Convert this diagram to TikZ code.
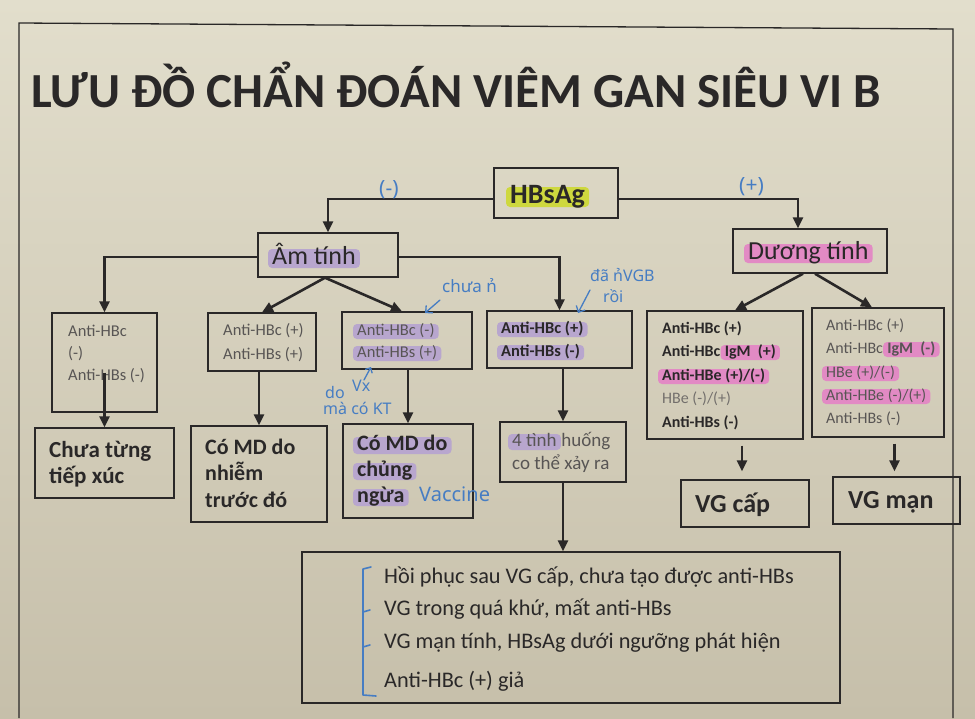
\documentclass[tikz,border=0pt]{standalone}
\usepackage{fontspec}
\setmainfont{Carlito}
\newfontfamily\handfont{Noto Sans}
\usetikzlibrary{arrows.meta,calc}
\definecolor{paperA}{RGB}{226,222,204}
\definecolor{paperB}{RGB}{198,191,170}
\definecolor{ink}{RGB}{42,40,40}
\definecolor{soft}{RGB}{88,85,84}
\definecolor{lite}{RGB}{115,111,108}
\definecolor{hlY}{RGB}{206,216,62}
\definecolor{hlP}{RGB}{184,166,206}
\definecolor{hlK}{RGB}{226,138,196}
\definecolor{pen}{RGB}{70,125,195}
\pgfdeclarelayer{paper}
\pgfdeclarelayer{marks}
\pgfsetlayers{paper,marks,main}
\newcommand\fs[1]{\fontsize{#1}{#1}\selectfont}
\newcommand\hlmark[3]{\fill[#1, rounded corners=4pt] ([xshift=-4pt,yshift=-4pt]#2.base west) rectangle ([xshift=4pt,yshift=#3]#2.base east);}
\begin{document}
\begin{tikzpicture}[x=1pt,y=-1pt,
  box/.style={draw=ink, line width=1.4pt, inner sep=0pt},
  conn/.style={draw=ink, line width=2.6pt, -{Triangle[length=11pt,width=10pt]}},
  tx/.style={anchor=base west, inner sep=0pt, text=#1},
  tx/.default=ink,
  penline/.style={draw=pen, line width=1.3pt, line cap=round, line join=round},
  hand/.style={text=pen, inner sep=0pt, anchor=base west, font=\handfont\fs{#1}}]
\begin{pgfonlayer}{paper}
\shade[top color=paperA, bottom color=paperB] (0,0) rectangle (975,718);
\end{pgfonlayer}
\useasboundingbox (0,0) rectangle (975,718);
% page frame
\draw[ink, line width=1.3pt] (19,718) -- (19,23) -- (953,29) -- (953,718);
% title
\node[tx, font=\bfseries\fs{49}] (title) at (31,107) {LƯU ĐỒ CHẨN ĐOÁN VIÊM GAN SIÊU VI B};
% boxes
\node[box, minimum width=124, minimum height=50] (hbs) at (556,193) {};
\node[box, minimum width=140, minimum height=44] (amt) at (328,255) {};
\node[box, minimum width=154, minimum height=44] (duong) at (810,251) {};
\node[box, minimum width=105, minimum height=99] (b1) at (104.5,362.5) {};
\node[box, minimum width=108, minimum height=58] (b2) at (262,342) {};
\node[box, minimum width=130, minimum height=57] (b3) at (407,340.5) {};
\node[box, minimum width=145, minimum height=57] (b4) at (559.5,339.5) {};
\node[box, minimum width=156, minimum height=128] (b9) at (725,375) {};
\node[box, minimum width=132, minimum height=129] (b10) at (878,372.5) {};
\node[box, minimum width=139, minimum height=70] (b5) at (104.5,463) {};
\node[box, minimum width=136, minimum height=96] (b6) at (259,474) {};
\node[box, minimum width=130, minimum height=94] (b7) at (408,471) {};
\node[box, minimum width=126, minimum height=60] (b8) at (563,452) {};
\node[box, minimum width=128, minimum height=47] (b11) at (745,503.5) {};
\node[box, minimum width=127, minimum height=47] (b12) at (896.5,500.5) {};
\node[box, minimum width=538, minimum height=151] (big) at (571,627.5) {};
% texts
\node[tx, font=\bfseries\fs{28}] (thbs) at (510,203) {HBsAg};
\node[tx, font=\fs{26}] (tamt) at (272,264) {Âm tính};
\node[tx, font=\fs{26}] (tduong) at (748,259) {Dương tính};
\begin{scope}[every node/.append style={font=\fs{16.5}}]
\node[tx=soft] (t1a) at (68,336) {Anti-HBc};
\node[tx=soft] (t1b) at (68,358) {(-)};
\node[tx=soft] (t1c) at (68,380) {Anti-HBs (-)};
\node[tx=soft] (t2a) at (223,335) {Anti-HBc (+)};
\node[tx=soft] (t2b) at (223,359) {Anti-HBs (+)};
\node[tx=soft] (t3a) at (357,335) {Anti-HBc (-)};
\node[tx=soft] (t3b) at (357,357) {Anti-HBs (+)};
\node[tx, font=\bfseries\fs{16.5}] (t4a) at (501,333) {Anti-HBc (+)};
\node[tx, font=\bfseries\fs{16.5}] (t4b) at (501,356) {Anti-HBs (-)};
\end{scope}
\begin{scope}[every node/.append style={font=\bfseries\fs{16}}]
\node[tx] (t9a) at (662,333) {Anti-HBc (+)};
\node[tx] (t9b) at (662,356) {Anti-HBc};
\node[tx] (t9c) at ([xshift=4pt]t9b.base east) {IgM\ \ (+)};
\node[tx] (t9d) at (662,380) {Anti-HBe (+)/(-)};
\node[tx=lite, font=\fs{16}] (t9e) at (662,403) {HBe (-)/(+)};
\node[tx] (t9f) at (662,427) {Anti-HBs (-)};
\end{scope}
\begin{scope}[every node/.append style={font=\fs{16}}]
\node[tx=soft] (t10a) at (826,330) {Anti-HBc (+)};
\node[tx=soft] (t10b) at (826,353) {Anti-HBc};
\node[tx=soft, font=\bfseries\fs{16}] (t10c) at ([xshift=4pt]t10b.base east) {IgM\ \ (-)};
\node[tx=soft] (t10d) at (826,377) {HBe (+)/(-)};
\node[tx=soft] (t10e) at (826,400) {Anti-HBe (-)/(+)};
\node[tx=soft] (t10f) at (826,423) {Anti-HBs (-)};
\end{scope}
\begin{scope}[every node/.append style={font=\bfseries\fs{22}}]
\node[tx, font=\bfseries\fs{23}] (t5a) at (49,457) {Chưa từng};
\node[tx, font=\bfseries\fs{23}] (t5b) at (49,483) {tiếp xúc};
\node[tx] (t6a) at (205,454) {Có MD do};
\node[tx] (t6b) at (205,480) {nhiễm};
\node[tx] (t6c) at (205,507) {trước đó};
\node[tx] (t7a) at (357,450) {Có MD do};
\node[tx] (t7b) at (357,476) {chủng};
\node[tx] (t7c) at (357,502) {ngừa};
\end{scope}
\node[tx=soft, font=\fs{19}] (t8a) at (512,446) {4 tình};
\node[tx=soft, font=\fs{19}] (t8b) at ([xshift=4.3pt]t8a.base east) {huống};
\node[tx=soft, font=\fs{19}] (t8c) at (512,469) {co thể xảy ra};
\node[tx, font=\bfseries\fs{26}] (t11) at (695,512) {VG cấp};
\node[tx, font=\bfseries\fs{26}] (t12) at (848,508) {VG mạn};
\begin{scope}[every node/.append style={font=\fs{22.3}}]
\node[tx] (L1) at (384,583) {Hồi phục sau VG cấp, chưa tạo được anti-HBs};
\node[tx] (L2) at (384,615) {VG trong quá khứ, mất anti-HBs};
\node[tx] (L3) at (384,648) {VG mạn tính, HBsAg dưới ngưỡng phát hiện};
\node[tx] (L4) at (384,687) {Anti-HBc (+) giả};
\end{scope}
% highlights
\begin{pgfonlayer}{marks}
\hlmark{hlY}{thbs}{16pt}
\hlmark{hlP}{tamt}{15pt}
\hlmark{hlK}{tduong}{15pt}
\hlmark{hlP}{t3a}{11pt}
\hlmark{hlP}{t3b}{11pt}
\hlmark{hlP}{t4a}{11pt}
\hlmark{hlP}{t4b}{11pt}
\hlmark{hlP}{t7a}{13pt}
\hlmark{hlP}{t7b}{13pt}
\hlmark{hlP}{t7c}{13pt}
\hlmark{hlP}{t8a}{12pt}
\hlmark{hlK}{t9c}{11pt}
\hlmark{hlK}{t9d}{11pt}
\hlmark{hlK}{t10c}{11pt}
\hlmark{hlK}{t10d}{11pt}
\hlmark{hlK}{t10e}{11pt}
\end{pgfonlayer}
% connectors
\draw[conn] ([yshift=-6pt]hbs.west) -| (amt.north);
\draw[conn] ([yshift=-6pt]hbs.east) -| ([xshift=-12pt]duong.north);
\draw[conn] ([yshift=-2pt]amt.west) -| (b1.north);
\draw[conn] ([yshift=-2pt]amt.east) -| (b4.north);
\draw[conn] ([xshift=-3pt]amt.south) -- (b2.north);
\draw[conn] ([xshift=-3pt]amt.south) -- ([xshift=-5pt]b3.north);
\draw[conn] ([yshift=-10pt]b1.center) -- (b5.north);
\draw[conn] (b6.north |- b2.south) -- (b6.north);
\draw[conn] (b7.north |- b3.south) -- (b7.north);
\draw[conn] (b8.north |- b4.south) -- (b8.north);
\draw[conn] (b8.south) -- (b8.south |- big.north);
\draw[conn] ([xshift=-7pt]duong.south) -- ([xshift=10pt]b9.north);
\draw[conn] ([xshift=5pt]duong.south) -- ([xshift=-6pt]b10.north);
\coordinate (a9) at ($(b11.north |- b9.south)+(-3,6)$);
\coordinate (e11) at ($(b11.north)+(-3,-8)$);
\draw[conn] (a9) -- (e11);
\coordinate (a10) at ($(b12.north |- b10.south)+(-2,6)$);
\coordinate (e12) at ($(b12.north)+(-2,-5)$);
\draw[conn] (a10) -- (e12);
% handwritten annotations
\node[hand=21] (hm) at (379,195) {(-)};
\node[hand=21] (hp) at (739,192) {(+)};
\node[hand=17] (hchua) at (442,292) {chưa n^^^^0309};
\draw[penline, -{Straight Barb[length=5pt]}] (440,300) -- (425,313);
\node[hand=16] (hda) at (590,281) {đã n^^^^0309VGB};
\node[hand=16] (hroi) at (603,302) {rồi};
\draw[penline, -{Straight Barb[length=5pt]}] (590,290) -- (578,313);
\node[hand=16] (hdo) at (325,398) {do};
\node[hand=16] (hvx) at (352,391) {Vx};
\node[hand=16] (hma) at (323,414) {mà có KT};
\draw[penline, -{Straight Barb[length=4pt]}] (364,380) -- (371,367);
\node[hand=20] (hvac) at (419,501) {Vaccine};
\draw[penline, line width=1.6pt] (371,567) -- (363,569) -- (363,695) -- (376,696);
\draw[penline, line width=1.6pt] (363,612) -- (370,610);
\draw[penline, line width=1.6pt] (363,647) -- (370,645);
\end{tikzpicture}
\end{document}
